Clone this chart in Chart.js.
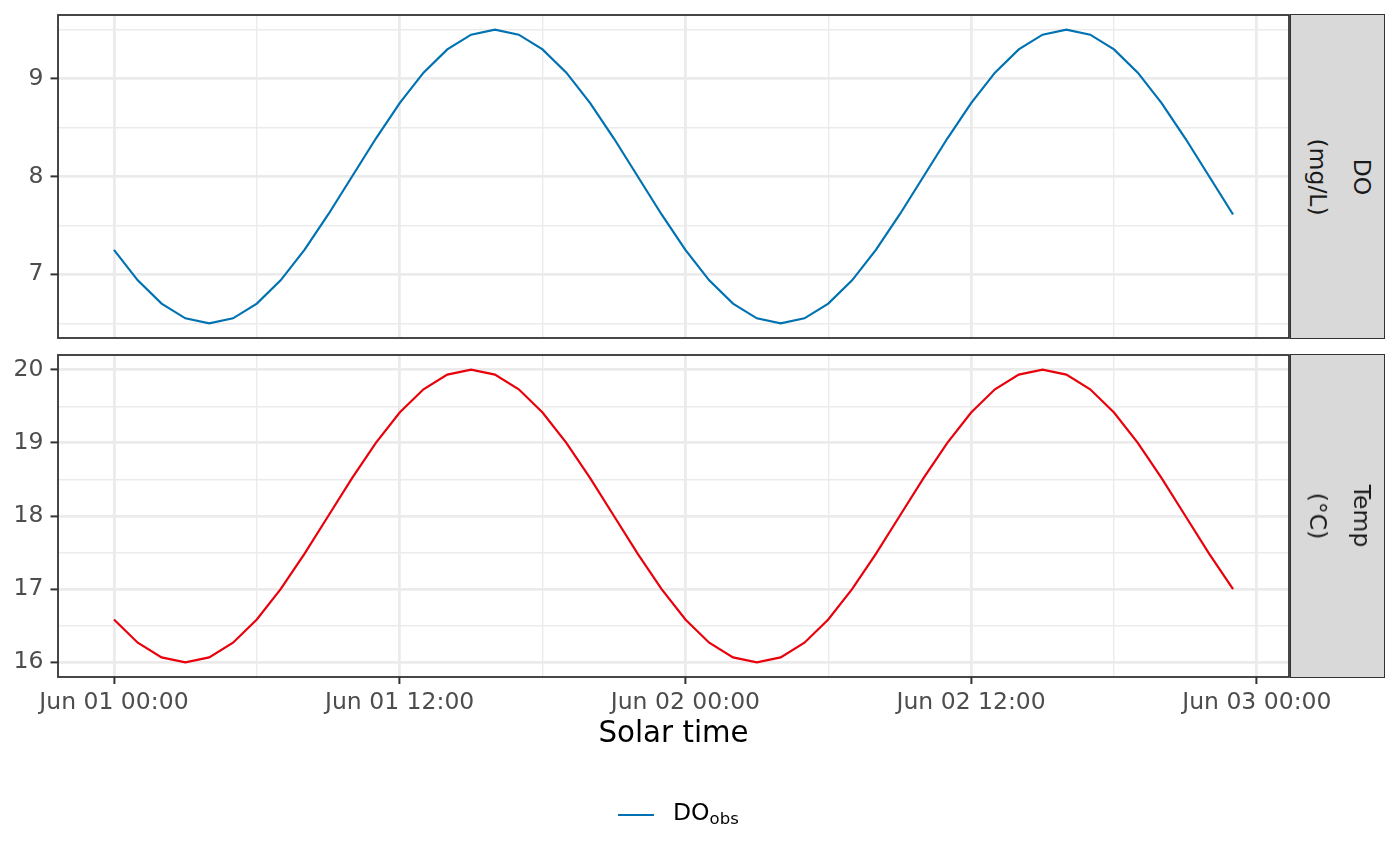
<!DOCTYPE html>
<html>
<head>
<meta charset="utf-8">
<script src="https://cdn.jsdelivr.net/npm/chart.js@4.4.1/dist/chart.umd.min.js"></script>
<style>
html,body{margin:0;padding:0;background:#fff;}
#wrap{position:relative;width:1400px;height:866px;overflow:hidden;font-family:"DejaVu Sans",sans-serif;}
#wrap canvas{position:absolute;left:0;top:0;}
.strip{position:absolute;left:1290px;width:95px;background:#D9D9D9;border:1.6px solid #333333;box-sizing:border-box;}
.strip .lab{position:absolute;left:calc(50% + 2px);top:50%;transform:translate(-50%,-50%) rotate(90deg);text-align:center;font-size:23.5px;line-height:44px;color:#1A1A1A;white-space:nowrap;}
#legKey{position:absolute;left:618px;top:814px;width:36px;height:0;border-top:2.2px solid #0072B2;}
#legText{position:absolute;left:673px;top:798px;font-size:23.5px;line-height:28px;color:#000;white-space:nowrap;}
#legText span{font-size:16.5px;vertical-align:-4px;}
</style>
</head>
<body>
<div id="wrap">
  <canvas id="cTop" width="1400" height="866"></canvas>
  <canvas id="cBot" width="1400" height="866"></canvas>
  <div class="strip" style="top:14px;height:325px;"><div class="lab" id="stripTop"></div></div>
  <div class="strip" style="top:354px;height:324px;"><div class="lab" id="stripBot"></div></div>
  <div id="legKey"></div>
  <div id="legText">DO<span>obs</span></div>
</div>
<script>
// ---- data ----
const hours = [0,1,2,3,4,5,6,7,8,9,10,11,12,13,14,15,16,17,18,19,20,21,22,23,
               24,25,26,27,28,29,30,31,32,33,34,35,36,37,38,39,40,41,42,43,44,45,46,47];
const xMajorHours = [0,12,24,36,48];
const xMajorLabels = ['Jun 01 00:00','Jun 01 12:00','Jun 02 00:00','Jun 02 12:00','Jun 03 00:00'];
const xMinorHours = [6,18,30,42];

const doObs = [7.25,6.939,6.701,6.551,6.5,6.551,6.701,6.939,7.25,7.612,8,8.388,
               8.75,9.061,9.299,9.449,9.5,9.449,9.299,9.061,8.75,8.388,8,7.612,
               7.25,6.939,6.701,6.551,6.5,6.551,6.701,6.939,7.25,7.612,8,8.388,
               8.75,9.061,9.299,9.449,9.5,9.449,9.299,9.061,8.75,8.388,8,7.612];
const doMajor = [7,8,9];
const doMinor = [6.5,7.5,8.5,9.5];

const temp = [16.586,16.268,16.068,16,16.068,16.268,16.586,17,17.482,18,18.518,19,
              19.414,19.732,19.932,20,19.932,19.732,19.414,19,18.518,18,17.482,17,
              16.586,16.268,16.068,16,16.068,16.268,16.586,17,17.482,18,18.518,19,
              19.414,19.732,19.932,20,19.932,19.732,19.414,19,18.518,18,17.482,17];
const tempMajor = [16,17,18,19,20];
const tempMinor = [16.5,17.5,18.5,19.5];

const stripTopLines = ['DO','(mg/L)'];
const stripBotLines = ['Temp','(°C)'];
const xTitle = 'Solar time';

const DO_COLOR = '#0072B2';
const TEMP_COLOR = '#E8000B';
const GRID = '#EBEBEB';
const INK = '#333333';

Chart.defaults.font.family = '"DejaVu Sans", sans-serif';

document.getElementById('stripTop').innerHTML = stripTopLines.join('<br>');
document.getElementById('stripBot').innerHTML = stripBotLines.join('<br>');
document.getElementById('legKey').style.borderTopColor = DO_COLOR;

const panelBorder = {
  id: 'panelBorder',
  afterDatasetsDraw(chart) {
    const a = chart.chartArea, c = chart.ctx;
    c.save();
    c.strokeStyle = INK;
    c.lineWidth = 1.8;
    c.strokeRect(a.left, a.top, a.right - a.left, a.bottom - a.top);
    c.restore();
  }
};

function makePanel(id, label, values, color, yMajor, yMinor, yMin, yMax, padTop, isBottom) {
  const isXMajor = c => c && c.tick && xMajorHours.includes(c.tick.value);
  const isYMajor = c => c && c.tick && yMajor.includes(c.tick.value);
  return new Chart(document.getElementById(id), {
    type: 'line',
    data: {
      datasets: [{
        label: label,
        data: values.map((v, i) => ({x: hours[i], y: v})),
        borderColor: color,
        borderWidth: 2.2,
        pointRadius: 0,
        tension: 0,
        fill: false
      }]
    },
    options: {
      responsive: false,
      animation: false,
      layout: {padding: {left: 0, right: 111, top: padTop, bottom: isBottom ? 0 : 528}},
      plugins: {legend: {display: false}, tooltip: {enabled: false}},
      scales: {
        x: {
          type: 'linear',
          min: -2.35,
          max: 49.35,
          afterBuildTicks: s => { s.ticks = xMajorHours.concat(xMinorHours).sort((a, b) => a - b).map(v => ({value: v})); },
          afterFit: s => { s.height = isBottom ? 189 : 0; },
          ticks: {
            display: isBottom,
            autoSkip: false,
            maxRotation: 0,
            minRotation: 0,
            padding: 4.5,
            color: '#4D4D4D',
            font: {size: 23.5},
            callback: v => { const k = xMajorHours.indexOf(v); return k >= 0 ? xMajorLabels[k] : ''; }
          },
          grid: {
            color: GRID,
            lineWidth: c => isXMajor(c) ? 2.8 : 1.4,
            drawTicks: isBottom,
            tickLength: 7,
            tickWidth: 2,
            tickColor: c => isXMajor(c) ? INK : 'rgba(0,0,0,0)'
          },
          border: {display: false},
          title: {
            display: isBottom,
            text: xTitle,
            color: '#000000',
            font: {size: 29.3},
            padding: {top: 0, bottom: 114}
          }
        },
        y: {
          type: 'linear',
          min: yMin,
          max: yMax,
          afterBuildTicks: s => { s.ticks = yMinor.concat(yMajor).sort((a, b) => a - b).map(v => ({value: v})); },
          afterFit: s => { s.width = 58; s.paddingTop = 0; s.paddingBottom = 0; },
          ticks: {
            padding: 7,
            color: '#4D4D4D',
            font: {size: 23.5},
            callback: v => yMajor.includes(v) ? String(v) : ''
          },
          grid: {
            color: GRID,
            lineWidth: c => isYMajor(c) ? 2.8 : 1.4,
            tickLength: 7.5,
            tickWidth: 2,
            tickColor: c => isYMajor(c) ? INK : 'rgba(0,0,0,0)'
          },
          border: {display: false}
        }
      }
    },
    plugins: [panelBorder]
  });
}

makePanel('cTop', 'DO (mg/L)', doObs, DO_COLOR, doMajor, doMinor, 6.35, 9.65, 15, false);
makePanel('cBot', 'Temp (°C)', temp, TEMP_COLOR, tempMajor, tempMinor, 15.8, 20.2, 355, true);
</script>
</body>
</html>
